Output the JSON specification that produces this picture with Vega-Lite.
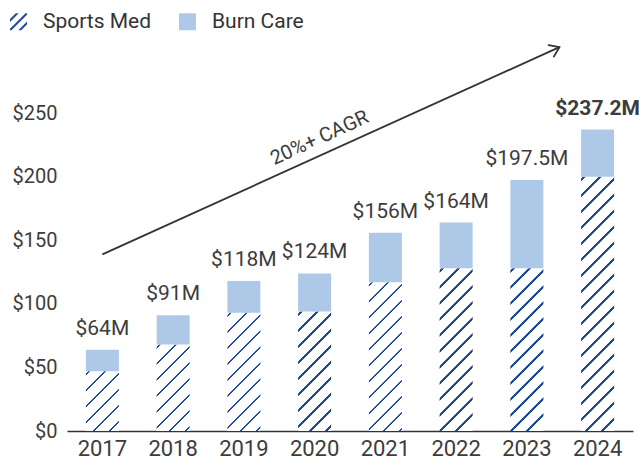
{
"$schema": "https://vega.github.io/schema/vega-lite/v6.json",
"width": 566, "height": 394,
"autosize": {"type": "none"},
"padding": {"left": 67, "top": 37, "right": 6, "bottom": 30},
"config": {"view": {"stroke": null}, "font": "Roboto", "axis": {"grid": false, "ticks": false, "labelFont": "Roboto", "labelColor": "#3c3c3c"},
  "legend": {"orient": "none", "legendX": -59, "legendY": -26, "direction": "horizontal", "symbolSize": 289, "symbolStrokeWidth": 0, "labelFont": "Roboto", "labelFontSize": 21, "labelColor": "#333", "labelOffset": 14, "columnPadding": 25}},
"datasets": {
 "rev": [
  {"year": "2017", "Sports Med": 47, "Burn Care": 17, "total": 64, "label": "$64M"},
  {"year": "2018", "Sports Med": 68, "Burn Care": 23, "total": 91, "label": "$91M"},
  {"year": "2019", "Sports Med": 93, "Burn Care": 25, "total": 118, "label": "$118M"},
  {"year": "2020", "Sports Med": 94, "Burn Care": 30, "total": 124, "label": "$124M"},
  {"year": "2021", "Sports Med": 117, "Burn Care": 39, "total": 156, "label": "$156M"},
  {"year": "2022", "Sports Med": 128, "Burn Care": 36, "total": 164, "label": "$164M"},
  {"year": "2023", "Sports Med": 128, "Burn Care": 69.5, "total": 197.5, "label": "$197.5M"},
  {"year": "2024", "Sports Med": 200, "Burn Care": 37.2, "total": 237.2, "label": "$237.2M"}
 ],
 "arrow": [{"yr": 2017, "val": 139, "yr2": 2023.46, "val2": 302}],
 "note": [{"yr": 2020.07, "val": 230.5, "text": "20%+ CAGR"}]
},
"layer": [
 {"layer": [
  {"data": {"name": "rev"},
   "transform": [{"fold": ["Sports Med", "Burn Care"], "as": ["type", "value"]}],
   "mark": {"type": "point", "filled": true, "size": 4, "opacity": 1, "strokeWidth": 0},
   "encoding": {
    "x": {"field": "year", "type": "ordinal", "scale": {"type": "band", "paddingInner": 0.5, "paddingOuter": 0.25},
          "axis": {"title": null, "labelAngle": 0, "labelAlign": "center", "labelBaseline": "top", "labelFontSize": 22, "labelPadding": 7, "domainColor": "#333", "domainWidth": 1.5}},
    "y": {"field": "value", "type": "quantitative", "title": null,
          "scale": {"domain": [0, 310], "nice": false},
          "axis": {"domain": false, "labelPadding": 10, "labelFontSize": 20, "values": [0, 50, 100, 150, 200, 250], "labelExpr": "'$' + datum.label"}},
    "fill": {"field": "type", "type": "nominal", "legend": {"title": null}},
    "shape": {"field": "type", "type": "nominal",
      "scale": {"domain": ["Sports Med", "Burn Care"], "range": ["M-1,0.83L0.83,-1L1,-1L1,-0.83L-0.83,1L-1,1ZM-1,-0.32L-0.32,-1L0.02,-1L-1,0.02ZM-0.02,1L1,-0.02L1,0.32L0.32,1Z", "square"]},
      "legend": {"title": null}}
   }},
  {"data": {"name": "rev"},
   "transform": [{"fold": ["Sports Med", "Burn Care"], "as": ["type", "value"]}],
   "mark": {"type": "bar", "width": 33},
   "encoding": {
    "x": {"field": "year", "type": "ordinal", "scale": {"type": "band", "paddingInner": 0.5, "paddingOuter": 0.25},
          "axis": {"title": null, "labelAngle": 0, "labelAlign": "center", "labelBaseline": "top", "labelFontSize": 22, "labelPadding": 7, "domainColor": "#333", "domainWidth": 1.5}},
    "y": {"field": "value", "type": "quantitative", "stack": "zero", "title": null,
          "scale": {"domain": [0, 310], "nice": false},
          "axis": {"domain": false, "labelPadding": 10, "labelFontSize": 20, "values": [0, 50, 100, 150, 200, 250], "labelExpr": "'$' + datum.label"}},
    "order": {"field": "type", "sort": "descending"},
    "fill": {"field": "type", "type": "nominal",
      "scale": {"domain": ["Sports Med", "Burn Care"], "range": ["#1f4a96", "#aec9e8"]},
      "legend": {"title": null},
      "condition": [
       {"test": "datum.type === 'Sports Med' && datum.year === '2017'", "value": {"gradient": "linear", "x1": 0, "y1": 0, "x2": 0.657, "y2": 1.1894, "stops": [
        {"offset": 0.02157, "color": "#fff"}, {"offset": 0.02157, "color": "#1f4a96"}, {"offset": 0.05176, "color": "#1f4a96"}, {"offset": 0.05176, "color": "#fff"},
        {"offset": 0.19409, "color": "#fff"}, {"offset": 0.19409, "color": "#1f4a96"}, {"offset": 0.22428, "color": "#1f4a96"}, {"offset": 0.22428, "color": "#fff"},
        {"offset": 0.36662, "color": "#fff"}, {"offset": 0.36662, "color": "#1f4a96"}, {"offset": 0.39681, "color": "#1f4a96"}, {"offset": 0.39681, "color": "#fff"},
        {"offset": 0.53914, "color": "#fff"}, {"offset": 0.53914, "color": "#1f4a96"}, {"offset": 0.56933, "color": "#1f4a96"}, {"offset": 0.56933, "color": "#fff"},
        {"offset": 0.71167, "color": "#fff"}, {"offset": 0.71167, "color": "#1f4a96"}, {"offset": 0.74186, "color": "#1f4a96"}, {"offset": 0.74186, "color": "#fff"},
        {"offset": 0.88419, "color": "#fff"}, {"offset": 0.88419, "color": "#1f4a96"}, {"offset": 0.91438, "color": "#1f4a96"}, {"offset": 0.91438, "color": "#fff"}]}},
       {"test": "datum.type === 'Sports Med' && datum.year === '2018'", "value": {"gradient": "linear", "x1": 0, "y1": 0, "x2": 0.46047, "y2": 1.206, "stops": [
        {"offset": 0.01675, "color": "#fff"}, {"offset": 0.01675, "color": "#1f4a96"}, {"offset": 0.04019, "color": "#1f4a96"}, {"offset": 0.04019, "color": "#fff"},
        {"offset": 0.15072, "color": "#fff"}, {"offset": 0.15072, "color": "#1f4a96"}, {"offset": 0.17416, "color": "#1f4a96"}, {"offset": 0.17416, "color": "#fff"},
        {"offset": 0.28469, "color": "#fff"}, {"offset": 0.28469, "color": "#1f4a96"}, {"offset": 0.30813, "color": "#1f4a96"}, {"offset": 0.30813, "color": "#fff"},
        {"offset": 0.41866, "color": "#fff"}, {"offset": 0.41866, "color": "#1f4a96"}, {"offset": 0.4421, "color": "#1f4a96"}, {"offset": 0.4421, "color": "#fff"},
        {"offset": 0.55263, "color": "#fff"}, {"offset": 0.55263, "color": "#1f4a96"}, {"offset": 0.57607, "color": "#1f4a96"}, {"offset": 0.57607, "color": "#fff"},
        {"offset": 0.6866, "color": "#fff"}, {"offset": 0.6866, "color": "#1f4a96"}, {"offset": 0.71004, "color": "#1f4a96"}, {"offset": 0.71004, "color": "#fff"},
        {"offset": 0.82057, "color": "#fff"}, {"offset": 0.82057, "color": "#1f4a96"}, {"offset": 0.84401, "color": "#1f4a96"}, {"offset": 0.84401, "color": "#fff"},
        {"offset": 0.95454, "color": "#fff"}, {"offset": 0.95454, "color": "#1f4a96"}, {"offset": 0.97798, "color": "#1f4a96"}, {"offset": 0.97798, "color": "#fff"}]}},
       {"test": "datum.type === 'Sports Med' && datum.year === '2019'", "value": {"gradient": "linear", "x1": 0, "y1": 0, "x2": 0.33131, "y2": 1.18669, "stops": [
        {"offset": 0.01323, "color": "#fff"}, {"offset": 0.01323, "color": "#1f4a96"}, {"offset": 0.03175, "color": "#1f4a96"}, {"offset": 0.03175, "color": "#fff"},
        {"offset": 0.11905, "color": "#fff"}, {"offset": 0.11905, "color": "#1f4a96"}, {"offset": 0.13757, "color": "#1f4a96"}, {"offset": 0.13757, "color": "#fff"},
        {"offset": 0.22487, "color": "#fff"}, {"offset": 0.22487, "color": "#1f4a96"}, {"offset": 0.24339, "color": "#1f4a96"}, {"offset": 0.24339, "color": "#fff"},
        {"offset": 0.33069, "color": "#fff"}, {"offset": 0.33069, "color": "#1f4a96"}, {"offset": 0.34921, "color": "#1f4a96"}, {"offset": 0.34921, "color": "#fff"},
        {"offset": 0.43651, "color": "#fff"}, {"offset": 0.43651, "color": "#1f4a96"}, {"offset": 0.45503, "color": "#1f4a96"}, {"offset": 0.45503, "color": "#fff"},
        {"offset": 0.54233, "color": "#fff"}, {"offset": 0.54233, "color": "#1f4a96"}, {"offset": 0.56085, "color": "#1f4a96"}, {"offset": 0.56085, "color": "#fff"},
        {"offset": 0.64815, "color": "#fff"}, {"offset": 0.64815, "color": "#1f4a96"}, {"offset": 0.66667, "color": "#1f4a96"}, {"offset": 0.66667, "color": "#fff"},
        {"offset": 0.75397, "color": "#fff"}, {"offset": 0.75397, "color": "#1f4a96"}, {"offset": 0.77249, "color": "#1f4a96"}, {"offset": 0.77249, "color": "#fff"},
        {"offset": 0.85979, "color": "#fff"}, {"offset": 0.85979, "color": "#1f4a96"}, {"offset": 0.87831, "color": "#1f4a96"}, {"offset": 0.87831, "color": "#fff"},
        {"offset": 0.96561, "color": "#fff"}, {"offset": 0.96561, "color": "#1f4a96"}, {"offset": 0.98413, "color": "#1f4a96"}, {"offset": 0.98413, "color": "#fff"}]}},
       {"test": "datum.type === 'Sports Med' && datum.year === '2020'", "value": {"gradient": "linear", "x1": 0, "y1": 0, "x2": 0.32753, "y2": 1.18575, "stops": [
        {"offset": 0.01312, "color": "#fff"}, {"offset": 0.01312, "color": "#1f4a96"}, {"offset": 0.03148, "color": "#1f4a96"}, {"offset": 0.03148, "color": "#fff"},
        {"offset": 0.11806, "color": "#fff"}, {"offset": 0.11806, "color": "#1f4a96"}, {"offset": 0.13642, "color": "#1f4a96"}, {"offset": 0.13642, "color": "#fff"},
        {"offset": 0.223, "color": "#fff"}, {"offset": 0.223, "color": "#1f4a96"}, {"offset": 0.24136, "color": "#1f4a96"}, {"offset": 0.24136, "color": "#fff"},
        {"offset": 0.32794, "color": "#fff"}, {"offset": 0.32794, "color": "#1f4a96"}, {"offset": 0.3463, "color": "#1f4a96"}, {"offset": 0.3463, "color": "#fff"},
        {"offset": 0.43287, "color": "#fff"}, {"offset": 0.43287, "color": "#1f4a96"}, {"offset": 0.45124, "color": "#1f4a96"}, {"offset": 0.45124, "color": "#fff"},
        {"offset": 0.53781, "color": "#fff"}, {"offset": 0.53781, "color": "#1f4a96"}, {"offset": 0.55617, "color": "#1f4a96"}, {"offset": 0.55617, "color": "#fff"},
        {"offset": 0.64275, "color": "#fff"}, {"offset": 0.64275, "color": "#1f4a96"}, {"offset": 0.66111, "color": "#1f4a96"}, {"offset": 0.66111, "color": "#fff"},
        {"offset": 0.74769, "color": "#fff"}, {"offset": 0.74769, "color": "#1f4a96"}, {"offset": 0.76605, "color": "#1f4a96"}, {"offset": 0.76605, "color": "#fff"},
        {"offset": 0.85263, "color": "#fff"}, {"offset": 0.85263, "color": "#1f4a96"}, {"offset": 0.87099, "color": "#1f4a96"}, {"offset": 0.87099, "color": "#fff"},
        {"offset": 0.95757, "color": "#fff"}, {"offset": 0.95757, "color": "#1f4a96"}, {"offset": 0.97593, "color": "#1f4a96"}, {"offset": 0.97593, "color": "#fff"}]}},
       {"test": "datum.type === 'Sports Med' && datum.year === '2021'", "value": {"gradient": "linear", "x1": 0, "y1": 0, "x2": 0.25845, "y2": 1.16457, "stops": [
        {"offset": 0.01101, "color": "#fff"}, {"offset": 0.01101, "color": "#1f4a96"}, {"offset": 0.02642, "color": "#1f4a96"}, {"offset": 0.02642, "color": "#fff"},
        {"offset": 0.09906, "color": "#fff"}, {"offset": 0.09906, "color": "#1f4a96"}, {"offset": 0.11447, "color": "#1f4a96"}, {"offset": 0.11447, "color": "#fff"},
        {"offset": 0.18712, "color": "#fff"}, {"offset": 0.18712, "color": "#1f4a96"}, {"offset": 0.20253, "color": "#1f4a96"}, {"offset": 0.20253, "color": "#fff"},
        {"offset": 0.27518, "color": "#fff"}, {"offset": 0.27518, "color": "#1f4a96"}, {"offset": 0.29059, "color": "#1f4a96"}, {"offset": 0.29059, "color": "#fff"},
        {"offset": 0.36324, "color": "#fff"}, {"offset": 0.36324, "color": "#1f4a96"}, {"offset": 0.37865, "color": "#1f4a96"}, {"offset": 0.37865, "color": "#fff"},
        {"offset": 0.45129, "color": "#fff"}, {"offset": 0.45129, "color": "#1f4a96"}, {"offset": 0.4667, "color": "#1f4a96"}, {"offset": 0.4667, "color": "#fff"},
        {"offset": 0.53935, "color": "#fff"}, {"offset": 0.53935, "color": "#1f4a96"}, {"offset": 0.55476, "color": "#1f4a96"}, {"offset": 0.55476, "color": "#fff"},
        {"offset": 0.62741, "color": "#fff"}, {"offset": 0.62741, "color": "#1f4a96"}, {"offset": 0.64282, "color": "#1f4a96"}, {"offset": 0.64282, "color": "#fff"},
        {"offset": 0.71547, "color": "#fff"}, {"offset": 0.71547, "color": "#1f4a96"}, {"offset": 0.73088, "color": "#1f4a96"}, {"offset": 0.73088, "color": "#fff"},
        {"offset": 0.80352, "color": "#fff"}, {"offset": 0.80352, "color": "#1f4a96"}, {"offset": 0.81893, "color": "#1f4a96"}, {"offset": 0.81893, "color": "#fff"},
        {"offset": 0.89158, "color": "#fff"}, {"offset": 0.89158, "color": "#1f4a96"}, {"offset": 0.90699, "color": "#1f4a96"}, {"offset": 0.90699, "color": "#fff"},
        {"offset": 0.97964, "color": "#fff"}, {"offset": 0.97964, "color": "#1f4a96"}, {"offset": 0.99505, "color": "#1f4a96"}, {"offset": 0.99505, "color": "#fff"}]}},
       {"test": "datum.type === 'Sports Med' && (datum.year === '2022' || datum.year === '2023')", "value": {"gradient": "linear", "x1": 0, "y1": 0, "x2": 0.23436, "y2": 1.15531, "stops": [
        {"offset": 0.01022, "color": "#fff"}, {"offset": 0.01022, "color": "#1f4a96"}, {"offset": 0.02453, "color": "#1f4a96"}, {"offset": 0.02453, "color": "#fff"},
        {"offset": 0.09199, "color": "#fff"}, {"offset": 0.09199, "color": "#1f4a96"}, {"offset": 0.1063, "color": "#1f4a96"}, {"offset": 0.1063, "color": "#fff"},
        {"offset": 0.17375, "color": "#fff"}, {"offset": 0.17375, "color": "#1f4a96"}, {"offset": 0.18806, "color": "#1f4a96"}, {"offset": 0.18806, "color": "#fff"},
        {"offset": 0.25552, "color": "#fff"}, {"offset": 0.25552, "color": "#1f4a96"}, {"offset": 0.26983, "color": "#1f4a96"}, {"offset": 0.26983, "color": "#fff"},
        {"offset": 0.33729, "color": "#fff"}, {"offset": 0.33729, "color": "#1f4a96"}, {"offset": 0.3516, "color": "#1f4a96"}, {"offset": 0.3516, "color": "#fff"},
        {"offset": 0.41905, "color": "#fff"}, {"offset": 0.41905, "color": "#1f4a96"}, {"offset": 0.43336, "color": "#1f4a96"}, {"offset": 0.43336, "color": "#fff"},
        {"offset": 0.50082, "color": "#fff"}, {"offset": 0.50082, "color": "#1f4a96"}, {"offset": 0.51513, "color": "#1f4a96"}, {"offset": 0.51513, "color": "#fff"},
        {"offset": 0.58258, "color": "#fff"}, {"offset": 0.58258, "color": "#1f4a96"}, {"offset": 0.59689, "color": "#1f4a96"}, {"offset": 0.59689, "color": "#fff"},
        {"offset": 0.66435, "color": "#fff"}, {"offset": 0.66435, "color": "#1f4a96"}, {"offset": 0.67866, "color": "#1f4a96"}, {"offset": 0.67866, "color": "#fff"},
        {"offset": 0.74612, "color": "#fff"}, {"offset": 0.74612, "color": "#1f4a96"}, {"offset": 0.76043, "color": "#1f4a96"}, {"offset": 0.76043, "color": "#fff"},
        {"offset": 0.82788, "color": "#fff"}, {"offset": 0.82788, "color": "#1f4a96"}, {"offset": 0.84219, "color": "#1f4a96"}, {"offset": 0.84219, "color": "#fff"},
        {"offset": 0.90965, "color": "#fff"}, {"offset": 0.90965, "color": "#1f4a96"}, {"offset": 0.92396, "color": "#1f4a96"}, {"offset": 0.92396, "color": "#fff"}]}},
       {"test": "datum.type === 'Sports Med' && datum.year === '2024'", "value": {"gradient": "linear", "x1": 0, "y1": 0, "x2": 0.14425, "y2": 1.11111, "stops": [
        {"offset": 0.00696, "color": "#fff"}, {"offset": 0.00696, "color": "#1f4a96"}, {"offset": 0.01671, "color": "#1f4a96"}, {"offset": 0.01671, "color": "#fff"},
        {"offset": 0.06268, "color": "#fff"}, {"offset": 0.06268, "color": "#1f4a96"}, {"offset": 0.07243, "color": "#1f4a96"}, {"offset": 0.07243, "color": "#fff"},
        {"offset": 0.11839, "color": "#fff"}, {"offset": 0.11839, "color": "#1f4a96"}, {"offset": 0.12814, "color": "#1f4a96"}, {"offset": 0.12814, "color": "#fff"},
        {"offset": 0.1741, "color": "#fff"}, {"offset": 0.1741, "color": "#1f4a96"}, {"offset": 0.18385, "color": "#1f4a96"}, {"offset": 0.18385, "color": "#fff"},
        {"offset": 0.22981, "color": "#fff"}, {"offset": 0.22981, "color": "#1f4a96"}, {"offset": 0.23956, "color": "#1f4a96"}, {"offset": 0.23956, "color": "#fff"},
        {"offset": 0.28553, "color": "#fff"}, {"offset": 0.28553, "color": "#1f4a96"}, {"offset": 0.29528, "color": "#1f4a96"}, {"offset": 0.29528, "color": "#fff"},
        {"offset": 0.34124, "color": "#fff"}, {"offset": 0.34124, "color": "#1f4a96"}, {"offset": 0.35099, "color": "#1f4a96"}, {"offset": 0.35099, "color": "#fff"},
        {"offset": 0.39695, "color": "#fff"}, {"offset": 0.39695, "color": "#1f4a96"}, {"offset": 0.4067, "color": "#1f4a96"}, {"offset": 0.4067, "color": "#fff"},
        {"offset": 0.45266, "color": "#fff"}, {"offset": 0.45266, "color": "#1f4a96"}, {"offset": 0.46241, "color": "#1f4a96"}, {"offset": 0.46241, "color": "#fff"},
        {"offset": 0.50838, "color": "#fff"}, {"offset": 0.50838, "color": "#1f4a96"}, {"offset": 0.51813, "color": "#1f4a96"}, {"offset": 0.51813, "color": "#fff"},
        {"offset": 0.56409, "color": "#fff"}, {"offset": 0.56409, "color": "#1f4a96"}, {"offset": 0.57384, "color": "#1f4a96"}, {"offset": 0.57384, "color": "#fff"},
        {"offset": 0.6198, "color": "#fff"}, {"offset": 0.6198, "color": "#1f4a96"}, {"offset": 0.62955, "color": "#1f4a96"}, {"offset": 0.62955, "color": "#fff"},
        {"offset": 0.67551, "color": "#fff"}, {"offset": 0.67551, "color": "#1f4a96"}, {"offset": 0.68526, "color": "#1f4a96"}, {"offset": 0.68526, "color": "#fff"},
        {"offset": 0.73122, "color": "#fff"}, {"offset": 0.73122, "color": "#1f4a96"}, {"offset": 0.74097, "color": "#1f4a96"}, {"offset": 0.74097, "color": "#fff"},
        {"offset": 0.78694, "color": "#fff"}, {"offset": 0.78694, "color": "#1f4a96"}, {"offset": 0.79669, "color": "#1f4a96"}, {"offset": 0.79669, "color": "#fff"},
        {"offset": 0.84265, "color": "#fff"}, {"offset": 0.84265, "color": "#1f4a96"}, {"offset": 0.8524, "color": "#1f4a96"}, {"offset": 0.8524, "color": "#fff"},
        {"offset": 0.89836, "color": "#fff"}, {"offset": 0.89836, "color": "#1f4a96"}, {"offset": 0.90811, "color": "#1f4a96"}, {"offset": 0.90811, "color": "#fff"},
        {"offset": 0.95407, "color": "#fff"}, {"offset": 0.95407, "color": "#1f4a96"}, {"offset": 0.96382, "color": "#1f4a96"}, {"offset": 0.96382, "color": "#fff"}]}}
      ]}
   }},
  {"data": {"name": "rev"},
   "transform": [{"filter": "datum.year !== '2024'"}],
   "mark": {"type": "text", "baseline": "alphabetic", "dy": -15, "fontSize": 21, "font": "Roboto", "color": "#3c3c3c"},
   "encoding": {
    "x": {"field": "year", "type": "ordinal"},
    "y": {"field": "total", "type": "quantitative", "title": null},
    "text": {"field": "label"}
   }},
  {"data": {"name": "rev"},
   "transform": [{"filter": "datum.year === '2024'"}],
   "mark": {"type": "text", "baseline": "alphabetic", "dy": -15, "fontSize": 21, "font": "Roboto", "fontWeight": "bold", "color": "#3c3c3c"},
   "encoding": {
    "x": {"field": "year", "type": "ordinal"},
    "y": {"field": "total", "type": "quantitative", "title": null},
    "text": {"field": "label"}
   }}
 ]},
 {"layer": [
  {"data": {"name": "arrow"},
   "mark": {"type": "rule", "stroke": "#333", "strokeWidth": 1.8},
   "encoding": {
    "x": {"field": "yr", "type": "quantitative", "scale": {"domain": [2016.5, 2024.5], "nice": false, "zero": false}, "axis": null},
    "y": {"field": "val", "type": "quantitative", "title": null},
    "x2": {"field": "yr2"},
    "y2": {"field": "val2"}
   }},
  {"data": {"name": "arrow"},
   "mark": {"type": "point", "shape": "M-1,-0.7L0,0L-1,0.7", "filled": false, "stroke": "#333", "strokeWidth": 1.8, "size": 324, "angle": 335.6, "opacity": 1, "strokeCap": "round", "strokeJoin": "miter"},
   "encoding": {
    "x": {"field": "yr2", "type": "quantitative", "axis": null},
    "y": {"field": "val2", "type": "quantitative", "title": null}
   }},
  {"data": {"name": "note"},
   "mark": {"type": "text", "angle": 335.5, "fontSize": 20, "font": "Roboto", "color": "#3c3c3c", "align": "center", "baseline": "middle"},
   "encoding": {
    "x": {"field": "yr", "type": "quantitative", "axis": null},
    "y": {"field": "val", "type": "quantitative", "title": null},
    "text": {"field": "text"}
   }}
 ]}
],
"resolve": {"scale": {"x": "independent"}}
}
